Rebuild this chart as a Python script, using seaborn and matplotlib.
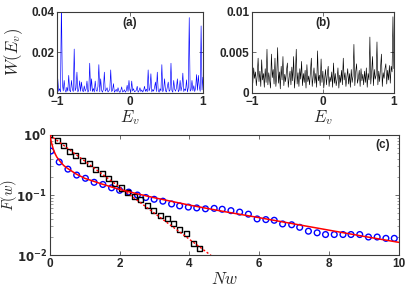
import numpy as np
import matplotlib
matplotlib.use("Agg")
import matplotlib.pyplot as plt
import seaborn as sns

# ---------------- data ----------------
E_grid = np.linspace(-1, 1, 161)

W_a = [0.0012, 0.0070, 0.0008, 0.0021, 0.0005, 0.0450, 0.0046, 0.0010, 0.0062, 0.0015,
       0.0004, 0.0028, 0.0009, 0.0087, 0.0013, 0.0006, 0.0062, 0.0018, 0.0007, 0.0217,
       0.0011, 0.0024, 0.0103, 0.0005, 0.0016, 0.0060, 0.0008, 0.0054, 0.0012, 0.0006,
       0.0035, 0.0009, 0.0019, 0.0059, 0.0004, 0.0013, 0.0147, 0.0010, 0.0070, 0.0007,
       0.0022, 0.0005, 0.0059, 0.0014, 0.0008, 0.0031, 0.0140, 0.0006, 0.0070, 0.0012,
       0.0004, 0.0020, 0.0103, 0.0009, 0.0015, 0.0026, 0.0005, 0.0011, 0.0017, 0.0114,
       0.0007, 0.0013, 0.0046, 0.0004, 0.0010, 0.0018, 0.0006, 0.0026, 0.0009, 0.0003,
       0.0012, 0.0030, 0.0005, 0.0008, 0.0016, 0.0004, 0.0011, 0.0038, 0.0007, 0.0062,
       0.0014, 0.0005, 0.0059, 0.0010, 0.0021, 0.0006, 0.0009, 0.0013, 0.0033, 0.0004,
       0.0011, 0.0026, 0.0007, 0.0015, 0.0005, 0.0012, 0.0033, 0.0008, 0.0019, 0.0006,
       0.0114, 0.0010, 0.0024, 0.0095, 0.0005, 0.0017, 0.0009, 0.0028, 0.0054, 0.0007,
       0.0103, 0.0013, 0.0004, 0.0021, 0.0010, 0.0140, 0.0006, 0.0018, 0.0070, 0.0011,
       0.0005, 0.0029, 0.0054, 0.0008, 0.0015, 0.0147, 0.0012, 0.0004, 0.0062, 0.0019,
       0.0009, 0.0025, 0.0070, 0.0006, 0.0014, 0.0062, 0.0010, 0.0032, 0.0098, 0.0007,
       0.0020, 0.0012, 0.0065, 0.0005, 0.0027, 0.0372, 0.0009, 0.0016, 0.0062, 0.0011,
       0.0036, 0.0007, 0.0024, 0.0091, 0.0013, 0.0087, 0.0030, 0.0008, 0.0331, 0.0015,
       0.0078]

W_b = [0.0028, 0.0012, 0.0031, 0.0018, 0.0026, 0.0009, 0.0022, 0.0043, 0.0014, 0.0027,
       0.0008, 0.0041, 0.0016, 0.0024, 0.0007, 0.0030, 0.0013, 0.0054, 0.0010, 0.0025,
       0.0015, 0.0006, 0.0048, 0.0019, 0.0029, 0.0011, 0.0043, 0.0008, 0.0021, 0.0056,
       0.0012, 0.0026, 0.0005, 0.0033, 0.0016, 0.0045, 0.0009, 0.0023, 0.0014, 0.0028,
       0.0037, 0.0007, 0.0019, 0.0027, 0.0010, 0.0032, 0.0015, 0.0045, 0.0006, 0.0022,
       0.0054, 0.0011, 0.0025, 0.0008, 0.0030, 0.0017, 0.0039, 0.0009, 0.0024, 0.0013,
       0.0028, 0.0006, 0.0035, 0.0014, 0.0021, 0.0010, 0.0026, 0.0043, 0.0008, 0.0019,
       0.0031, 0.0012, 0.0024, 0.0007, 0.0052, 0.0015, 0.0022, 0.0009, 0.0042, 0.0013,
       0.0027, 0.0006, 0.0018, 0.0029, 0.0010, 0.0023, 0.0033, 0.0008, 0.0020, 0.0014,
       0.0026, 0.0007, 0.0037, 0.0012, 0.0024, 0.0009, 0.0017, 0.0031, 0.0006, 0.0022,
       0.0013, 0.0028, 0.0010, 0.0043, 0.0016, 0.0025, 0.0008, 0.0019, 0.0030, 0.0011,
       0.0024, 0.0007, 0.0029, 0.0013, 0.0021, 0.0060, 0.0009, 0.0026, 0.0036, 0.0012,
       0.0018, 0.0028, 0.0008, 0.0030, 0.0015, 0.0023, 0.0010, 0.0027, 0.0013, 0.0031,
       0.0007, 0.0024, 0.0016, 0.0069, 0.0011, 0.0026, 0.0045, 0.0009, 0.0029, 0.0017,
       0.0022, 0.0063, 0.0010, 0.0027, 0.0014, 0.0032, 0.0048, 0.0008, 0.0025, 0.0018,
       0.0030, 0.0036, 0.0011, 0.0028, 0.0016, 0.0034, 0.0012, 0.0033, 0.0026, 0.0094,
       0.0030]

nw_circ = [0.03, 0.27, 0.52, 0.77, 1.02, 1.27, 1.52, 1.77, 2.00, 2.26, 2.51, 2.75, 2.99,
           3.24, 3.49, 3.72, 3.97, 4.21, 4.46, 4.71, 4.94, 5.19, 5.44, 5.69, 5.94, 6.19,
           6.43, 6.67, 6.93, 7.16, 7.41, 7.66, 7.90, 8.15, 8.40, 8.63, 8.88, 9.13, 9.38,
           9.63, 9.87]
F_circ = [0.54, 0.355, 0.27, 0.215, 0.19, 0.163, 0.15, 0.132, 0.12, 0.112, 0.10, 0.091,
          0.085, 0.079, 0.071, 0.066, 0.063, 0.061, 0.059, 0.060, 0.058, 0.055, 0.052,
          0.048, 0.040, 0.039, 0.038, 0.033, 0.032, 0.029, 0.025, 0.0235, 0.022, 0.022,
          0.022, 0.022, 0.022, 0.020, 0.020, 0.019, 0.019]

nw_sq = [0.00, 0.21, 0.39, 0.57, 0.75, 0.94, 1.13, 1.31, 1.50, 1.68, 1.86, 2.05, 2.23,
         2.43, 2.61, 2.80, 2.98, 3.17, 3.36, 3.55, 3.73, 3.92, 4.11, 4.29]
F_sq = [1.0, 0.80, 0.66, 0.54, 0.45, 0.38, 0.33, 0.27, 0.23, 0.19, 0.158, 0.131, 0.111,
        0.094, 0.083, 0.066, 0.055, 0.046, 0.040, 0.033, 0.027, 0.023, 0.0158, 0.0129]

nw_fit = [0.0, 0.02, 0.05, 0.10, 0.15, 0.20, 0.30, 0.40, 0.50, 0.75, 1.0, 1.5, 2.0, 2.5,
          3.0, 4.0, 5.0, 6.0, 7.0, 8.0, 9.0, 10.0]
F_fit = [1.0, 0.88, 0.74, 0.58, 0.49, 0.43, 0.36, 0.31, 0.28, 0.225, 0.19, 0.152, 0.124,
         0.105, 0.090, 0.068, 0.053, 0.042, 0.033, 0.026, 0.0205, 0.0163]

nw_exp = [0.0, 4.70]
F_exp = [1.0, 0.0091]

# ---------------- style ----------------
sns.set_style("ticks")
plt.rcParams["font.family"] = ["Liberation Sans", "DejaVu Sans"]
plt.rcParams["font.weight"] = "bold"
plt.rcParams["mathtext.fontset"] = "cm"

fig = plt.figure(figsize=(4.15, 2.98), dpi=100)
axa = fig.add_axes([0.137, 0.688, 0.352, 0.272])
axb = fig.add_axes([0.607, 0.688, 0.342, 0.272])
axc = fig.add_axes([0.120, 0.144, 0.841, 0.403])

def style(ax):
    for s in ax.spines.values():
        s.set_visible(True)
        s.set_color("#3a3a3a")
        s.set_linewidth(0.8)
    ax.tick_params(which="major", direction="in", top=True, right=True, length=3,
                   width=0.6, color="#555555", labelsize=8.5, pad=2)
    ax.tick_params(which="minor", direction="in", top=True, right=True, length=1.8,
                   width=0.5, color="#777777")

# panel (a)
sns.lineplot(x=E_grid, y=W_a, ax=axa, color="#0000ff", lw=0.45, sort=False)
axa.set_xlim(-1, 1)
axa.set_ylim(0, 0.04)
axa.set_xticks([-1, 0, 1])
axa.set_xticklabels(["\u22121", "0", "1"])
axa.set_yticks([0, 0.02, 0.04])
axa.set_yticklabels(["0", "0.02", "0.04"])
axa.set_xlabel(r"$E_v$", fontsize=12, labelpad=0)
axa.set_ylabel(r"$W(E_v)$", fontsize=12)
axa.yaxis.set_label_coords(-0.215, 0.5)
axa.text(0.5, 0.86, "(a)", transform=axa.transAxes, ha="center", va="center",
         fontsize=8.5, fontweight="bold")
style(axa)

# panel (b)
sns.lineplot(x=E_grid, y=W_b, ax=axb, color="black", lw=0.45, sort=False)
axb.set_xlim(-1, 1)
axb.set_ylim(0, 0.01)
axb.set_xticks([-1, 0, 1])
axb.set_xticklabels(["\u22121", "0", "1"])
axb.set_yticks([0, 0.005, 0.01])
axb.set_yticklabels(["0", "0.005", "0.01"])
axb.set_xlabel(r"$E_v$", fontsize=12, labelpad=0)
axb.set_ylabel("")
axb.text(0.5, 0.86, "(b)", transform=axb.transAxes, ha="center", va="center",
         fontsize=8.5, fontweight="bold")
style(axb)

# panel (c)
axc.set_yscale("log")
sns.scatterplot(x=nw_circ, y=F_circ, ax=axc, marker="o", s=17, facecolor="none",
                edgecolor="#0000ff", linewidth=1.0, zorder=3)
sns.scatterplot(x=nw_sq, y=F_sq, ax=axc, marker="s", s=13, facecolor="none",
                edgecolor="black", linewidth=1.0, zorder=3)
sns.lineplot(x=nw_fit, y=F_fit, ax=axc, color="red", lw=1.1, sort=False, zorder=4)
sns.lineplot(x=nw_exp, y=F_exp, ax=axc, color="red", lw=1.0, sort=False, zorder=4,
             linestyle=(0, (1.5, 1.5)))
axc.set_xlim(0, 10)
axc.set_ylim(1e-2, 1)
axc.set_xticks([0, 2, 4, 6, 8, 10])
axc.set_yticks([1e-2, 1e-1, 1])
labs = axc.set_yticklabels([r"$\mathbf{10^{-2}}$", r"$\mathbf{10^{-1}}$", r"$\mathbf{10^{0}}$"])
for t in labs:
    t.set_math_fontfamily("dejavusans")
    t.set_fontsize(7.2)
axc.tick_params(axis="y", which="major", pad=1.5)
axc.set_xlabel(r"$Nw$", fontsize=12, labelpad=1)
axc.set_ylabel(r"$F(w)$", fontsize=10.5)
axc.yaxis.set_label_coords(-0.089, 0.5)
axc.text(0.975, 0.92, "(c)", transform=axc.transAxes, ha="right", va="center",
         fontsize=8.5, fontweight="bold")
style(axc)

fig.savefig("out.png", dpi=100)
